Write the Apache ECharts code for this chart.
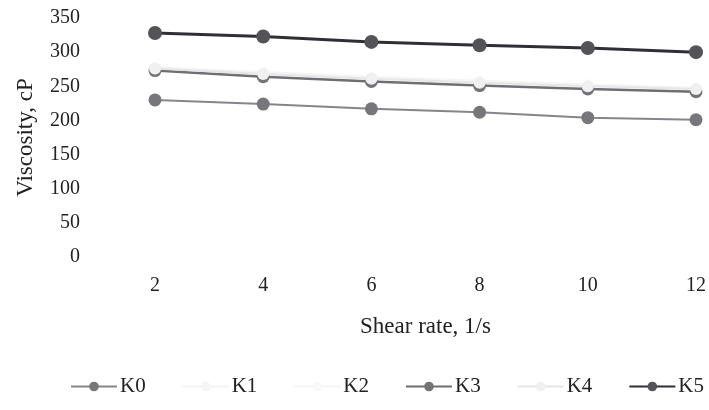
<!DOCTYPE html>
<html>
<head>
<meta charset="utf-8">
<script src="https://cdn.jsdelivr.net/npm/echarts@6/dist/echarts.min.js"></script>
<style>html,body{margin:0;padding:0;background:#fff;}#c{width:709px;height:410px;}</style>
</head>
<body>
<div id="c"></div>
<script>
const categories = ['2', '4', '6', '8', '10', '12'];
const yTicks = [0, 50, 100, 150, 200, 250, 300, 350];
const K0 = [230, 224, 217, 212, 204, 201];
const K1 = [277, 270, 263, 257, 252, 247];
const K2 = [278, 271, 264, 258, 253, 248];
const K3 = [273, 264, 257, 251, 246, 242];
const K4 = [276, 268, 261, 255, 250, 246];
const K5 = [328, 323, 315, 310, 306, 300];

const font = 'Liberation Serif';
const chart = echarts.init(document.getElementById('c'));
function s(name, data, color, lineColor, width, size, z) {
  return {
    name, type: 'line', data, symbol: 'circle', symbolSize: size, z,
    itemStyle: { color: color },
    lineStyle: { color: lineColor, width: width },
    emphasis: { disabled: true }
  };
}
chart.setOption({
  animation: false,
  backgroundColor: '#fff',
  grid: { left: 155, right: 13, top: 18, bottom: 153 },
  xAxis: {
    type: 'category', data: categories, boundaryGap: false,
    axisLine: { show: false }, axisTick: { show: false }, splitLine: { show: false },
    axisLabel: { color: '#222', fontFamily: font, fontSize: 20, margin: 19 },
    name: 'Shear rate, 1/s', nameLocation: 'middle', nameGap: 58,
    nameTextStyle: { color: '#222', fontFamily: font, fontSize: 23 }
  },
  yAxis: {
    type: 'value', min: yTicks[0], max: yTicks[yTicks.length - 1], interval: 50,
    axisLine: { show: false }, axisTick: { show: false }, splitLine: { show: false },
    axisLabel: { color: '#222', fontFamily: font, fontSize: 20, margin: 75 },
    name: 'Viscosity, cP', nameLocation: 'middle', nameGap: 118,
    nameTextStyle: { color: '#222', fontFamily: font, fontSize: 23 }
  },
  legend: {
    left: 65, top: 371, itemWidth: 46, itemHeight: 12, itemGap: 36,
    textStyle: { color: '#222', fontFamily: font, fontSize: 21, padding: [0, 0, 0, -2] },
    data: ['K0', 'K1', 'K2', 'K3', 'K4', 'K5']
  },
  series: [
    s('K0', K0, '#77777b', '#85858a', 2, 13, 2),
    s('K1', K1, '#f6f6f6', '#f3f3f3', 2, 10, 3),
    s('K2', K2, '#f8f8f8', '#f5f5f5', 2, 10, 3),
    s('K3', K3, '#747478', '#6f6f73', 2.5, 13, 4),
    s('K4', K4, '#f0f0f0', '#e6e6e6', 2, 12, 5),
    s('K5', K5, '#535358', '#2f2f36', 3, 14, 6)
  ]
});
</script>
</body>
</html>
